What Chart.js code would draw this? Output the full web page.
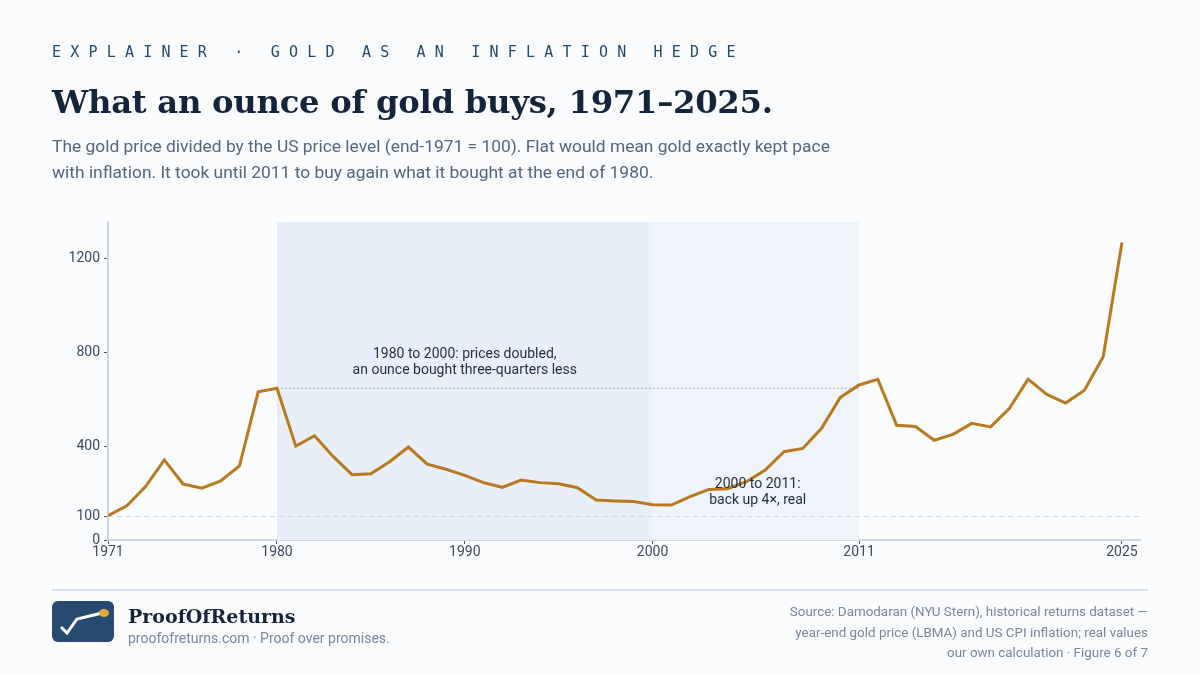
<!DOCTYPE html>
<html><head><meta charset="utf-8">
<script src="https://cdn.jsdelivr.net/npm/chart.js@4"></script>
<style>
body{margin:0;background:#fbfcfe;width:1200px;height:675px;overflow:hidden;position:relative;font-family:Roboto,"Liberation Sans",sans-serif;}
#c{position:absolute;left:0;top:0;}
.k{position:absolute;left:52px;top:43px;font-family:"DejaVu Sans Mono",monospace;font-size:15px;letter-spacing:9.2px;color:#24496e;}
.t{position:absolute;left:52px;top:83px;font-family:"DejaVu Serif",serif;font-weight:bold;font-size:32.3px;color:#14243a;letter-spacing:-0.3px;}
.s{position:absolute;left:52px;top:133px;font-size:17.4px;line-height:26px;color:#55657a;width:800px;}
.hr{position:absolute;left:52px;right:52px;top:589px;height:2px;background:#d5dfea;}
.logo{position:absolute;left:52px;top:601px;width:62px;height:41px;background:#264a70;border-radius:6px;}
.b{position:absolute;left:128px;top:605px;font-family:"DejaVu Serif",serif;font-weight:bold;font-size:19px;color:#14243a;}
.u{position:absolute;left:128px;top:630px;font-size:14px;color:#7a8799;}
.src{position:absolute;right:52px;top:602px;text-align:right;font-size:13.4px;line-height:20.5px;color:#7a8799;}
</style></head><body>
<canvas id="c" width="1200" height="675"></canvas>
<div class="k">EXPLAINER · GOLD AS AN INFLATION HEDGE</div>
<div class="t">What an ounce of gold buys, 1971–2025.</div>
<div class="s">The gold price divided by the US price level (end-1971 = 100). Flat would mean gold exactly kept pace with inflation. It took until 2011 to buy again what it bought at the end of 1980.</div>
<div class="hr"></div>
<div class="logo"><svg width="62" height="41"><polyline points="9,26 15,32 25,18 50,12" fill="none" stroke="#fff" stroke-width="3"/><ellipse cx="52" cy="12" rx="5" ry="4" fill="#e8a83a"/></svg></div>
<div class="b">ProofOfReturns</div>
<div class="u">proofofreturns.com · Proof over promises.</div>
<div class="src">Source: Damodaran (NYU Stern), historical returns dataset —<br>year-end gold price (LBMA) and US CPI inflation; real values<br>our own calculation · Figure 6 of 7</div>
<script>
const years=[];for(let y=1971;y<=2025;y++)years.push(y);
const realGold=[104,146,228,342,239,221,252,316,633,648,401,445,356,279,283,334,397,324,302,276,245,225,256,245,240,223,171,167,164,151,149,185,216,219,249,299,377,391,477,609,662,686,490,485,426,451,498,483,561,687,622,585,640,783,1271];
const yTicks=[0,100,400,800,1200];
const xTicks=[1971,1980,1990,2000,2011,2025];
const shade1=[1980,2000], shade2=[2000,2011];
const peakLevel=648, baseLevel=100;
const note1=["1980 to 2000: prices doubled,","an ounce bought three-quarters less"];
const note2=["2000 to 2011:","back up 4×, real"];

const annot={id:'annot',
beforeDatasetsDraw(ch){const {ctx,chartArea:a,scales:{x,y}}=ch;ctx.save();
 ctx.fillStyle='#e8eff8';ctx.fillRect(x.getPixelForValue(shade1[0]),a.top,x.getPixelForValue(shade1[1])-x.getPixelForValue(shade1[0]),a.bottom-a.top);
 ctx.fillStyle='#eff4fb';ctx.fillRect(x.getPixelForValue(shade2[0]),a.top,x.getPixelForValue(shade2[1])-x.getPixelForValue(shade2[0]),a.bottom-a.top);
 ctx.strokeStyle='#ccd6e2';ctx.lineWidth=1;ctx.setLineDash([5,4]);ctx.beginPath();ctx.moveTo(a.left,y.getPixelForValue(baseLevel));ctx.lineTo(a.right,y.getPixelForValue(baseLevel));ctx.stroke();
 ctx.strokeStyle='#8a96a6';ctx.setLineDash([1.5,2.5]);ctx.beginPath();ctx.moveTo(x.getPixelForValue(1980),y.getPixelForValue(peakLevel));ctx.lineTo(x.getPixelForValue(2011),y.getPixelForValue(peakLevel));ctx.stroke();
 ctx.restore();},
afterDatasetsDraw(ch){const {ctx,scales:{x,y}}=ch;ctx.save();ctx.fillStyle='#1f2d3d';ctx.font='14px Roboto, "Liberation Sans", sans-serif';ctx.textAlign='center';ctx.textBaseline='middle';
 note1.forEach((t,i)=>ctx.fillText(t,x.getPixelForValue(1990),y.getPixelForValue(800)+2+i*16));
 note2.forEach((t,i)=>ctx.fillText(t,x.getPixelForValue(2005.6),y.getPixelForValue(235)+i*16));
 ctx.restore();}};

new Chart(document.getElementById('c'),{type:'line',
data:{datasets:[{data:years.map((yr,i)=>({x:yr,y:realGold[i]})),borderColor:'#b8791f',borderWidth:3,pointRadius:0,tension:0}]},
options:{responsive:false,animation:false,devicePixelRatio:1,
 layout:{padding:{left:50,top:222,right:60,bottom:105}},
 plugins:{legend:{display:false},tooltip:{enabled:false}},
 scales:{
  x:{type:'linear',min:1971,max:2025.96,afterBuildTicks:s=>{s.ticks=xTicks.map(v=>({value:v}))},afterFit:s=>{s.height=30},
   grid:{drawOnChartArea:false,drawTicks:true,tickLength:4,color:'#4a5668'},border:{color:'#cdd7e3',width:2},
   ticks:{color:'#3e4a5c',font:{size:14,family:'Roboto'},autoSkip:false,maxRotation:0,callback:v=>String(v),padding:0}},
  y:{min:0,max:1358,afterBuildTicks:s=>{s.ticks=yTicks.map(v=>({value:v}))},afterFit:s=>{s.width=58},
   grid:{drawOnChartArea:false,drawTicks:true,tickLength:4,color:'#4a5668'},border:{color:'#cdd7e3',width:2},
   ticks:{color:'#3e4a5c',font:{size:14,family:'Roboto'},padding:4,callback:v=>String(v)}}
 }},plugins:[annot]});
</script></body></html>
